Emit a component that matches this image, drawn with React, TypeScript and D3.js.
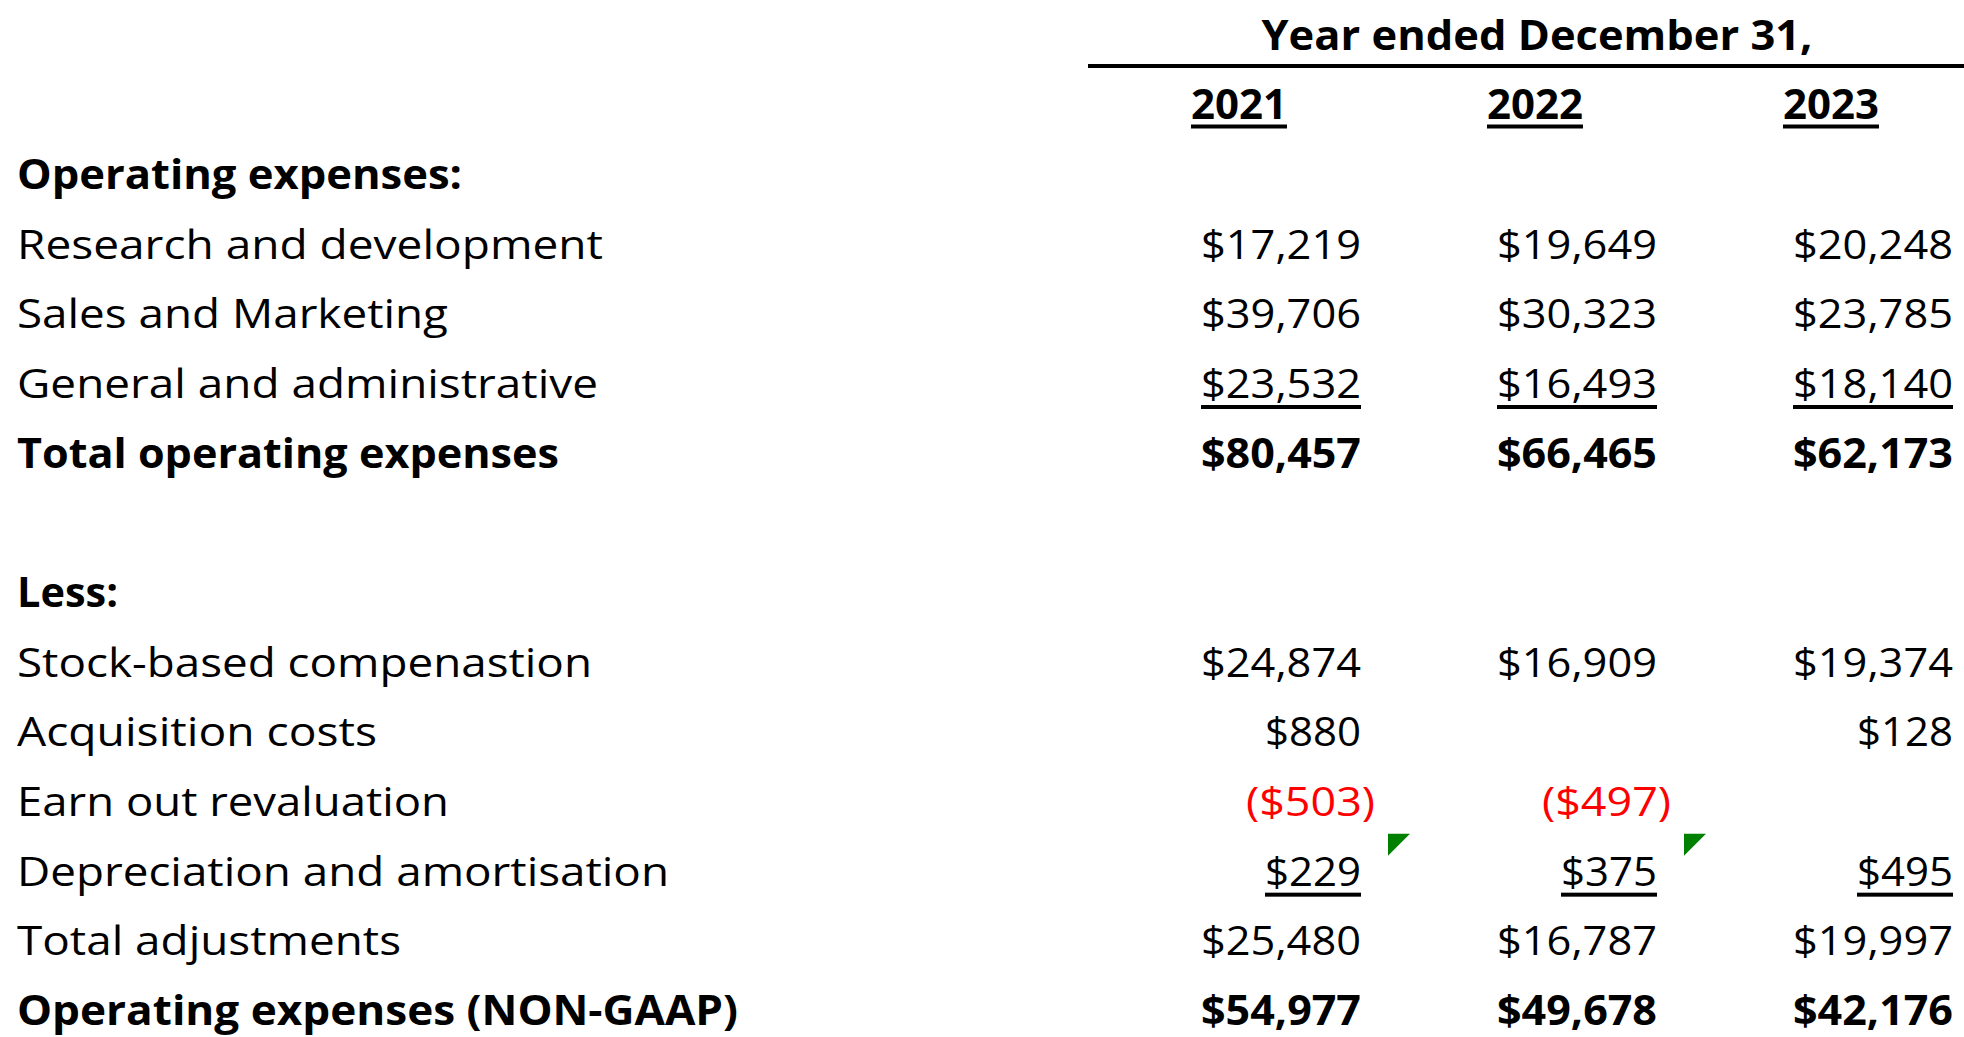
import React from "react";
import * as d3 from "d3";

// ---- data ----
const years = ["2021", "2022", "2023"];
const headerTitle = "Year ended December 31,";

const rowLabels = [
  "Operating expenses:",
  "Research and development",
  "Sales and Marketing",
  "General and administrative",
  "Total operating expenses",
  "",
  "Less:",
  "Stock-based compenastion",
  "Acquisition costs",
  "Earn out revaluation",
  "Depreciation and amortisation",
  "Total adjustments",
  "Operating expenses (NON-GAAP)",
];

const researchDev = [17219, 19649, 20248];
const salesMarketing = [39706, 30323, 23785];
const generalAdmin = [23532, 16493, 18140];
const totalOpex = [80457, 66465, 62173];
const stockComp = [24874, 16909, 19374];
const acquisitionCosts = [880, null, 128];
const earnOutReval = [-503, -497, null];
const deprecAmort = [229, 375, 495];
const totalAdjustments = [25480, 16787, 19997];
const nonGaapOpex = [54977, 49678, 42176];

// cells carrying the spreadsheet's green error indicator (row index, column index)
const errorFlags: [number, number][] = [
  [10, 0],
  [10, 1],
];

// ---- layout / style ----
const W = 1964;
const H = 1037;
const FONT = "'Open Sans', 'Noto Sans', sans-serif";
const FS = 41;
const LABEL_X = 17;
const labelWidths = [445, 586, 431, 581, 542, 0, 101, 575, 360, 432, 652, 384, 721];
const boldRows = new Set([0, 4, 6, 12]);
const underlineRows = new Set([3, 10]);

const rowValues: (number | null)[][] = [];
rowValues[1] = researchDev;
rowValues[2] = salesMarketing;
rowValues[3] = generalAdmin;
rowValues[4] = totalOpex;
rowValues[7] = stockComp;
rowValues[8] = acquisitionCosts;
rowValues[9] = earnOutReval;
rowValues[10] = deprecAmort;
rowValues[11] = totalAdjustments;
rowValues[12] = nonGaapOpex;

const fmt = d3.format(",");
function fmtMoney(v: number) {
  return v < 0 ? `($${fmt(-v)})` : `$${fmt(v)}`;
}
function numWidth(s: string) {
  let w = 0;
  for (const ch of s) {
    if (ch === ",") w += 16;
    else if (ch === "(" || ch === ")") w += 16.5;
    else w += 24;
  }
  return w;
}

export default function App() {
  const y = d3.scaleLinear().domain([0, 12]).range([189, 1025]);
  const x = d3.scaleLinear().domain([0, 2]).range([1361, 1953]);

  const elements: React.ReactNode[] = [];

  rowLabels.forEach((label, i) => {
    if (!label) return;
    elements.push(
      <text
        key={`l${i}`}
        x={LABEL_X}
        y={y(i)}
        fontWeight={boldRows.has(i) ? 700 : 400}
        textLength={labelWidths[i]}
        lengthAdjust="spacingAndGlyphs"
      >
        {label}
      </text>
    );
  });

  rowValues.forEach((vals, i) => {
    if (!vals) return;
    vals.forEach((v, j) => {
      if (v === null || v === undefined) return;
      const s = fmtMoney(v);
      const w = numWidth(s);
      const neg = v < 0;
      const right = x(j) + (neg ? 14 : 0);
      elements.push(
        <text
          key={`v${i}-${j}`}
          x={right}
          y={y(i)}
          textAnchor="end"
          fill={neg ? "#FF0000" : "#000"}
          fontWeight={boldRows.has(i) ? 700 : 400}
          textLength={w}
          lengthAdjust="spacingAndGlyphs"
        >
          {s}
        </text>
      );
      if (underlineRows.has(i)) {
        elements.push(
          <rect key={`u${i}-${j}`} x={right - w} y={y(i) + 7} width={w} height={4} fill="#000" />
        );
      }
    });
  });

  errorFlags.forEach(([r, c], k) => {
    const tx = x(c) + 27;
    const ty = y(r) - 52;
    elements.push(
      <polygon
        key={`e${k}`}
        points={`${tx},${ty} ${tx + 22},${ty} ${tx},${ty + 22}`}
        fill="#008000"
      />
    );
  });

  return (
    <svg
      width={W}
      height={H}
      style={{ position: "absolute", left: 0, top: 0, background: "#fff" }}
      fontFamily={FONT}
      fontSize={FS}
    >
      <rect x={0} y={0} width={W} height={H} fill="#fff" />
      <text x={1537} y={50} textAnchor="middle" fontWeight={700} textLength={551} lengthAdjust="spacingAndGlyphs">
        {headerTitle}
      </text>
      <rect x={1088} y={64} width={W - 1088} height={4} fill="#000" />
      {years.map((yr, j) => {
        const cx = x(j) - 122;
        const w = numWidth(yr);
        return (
          <g key={yr}>
            <text x={cx} y={119} textAnchor="middle" fontWeight={700} textLength={w} lengthAdjust="spacingAndGlyphs">
              {yr}
            </text>
            <rect x={cx - w / 2} y={124.5} width={w} height={4} fill="#000" />
          </g>
        );
      })}
      {elements}
    </svg>
  );
}
